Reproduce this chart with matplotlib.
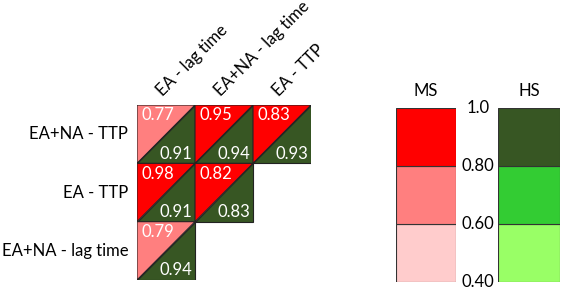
import numpy as np
import matplotlib
matplotlib.use('Agg')
import matplotlib.pyplot as plt
from matplotlib.colors import ListedColormap, BoundaryNorm
from matplotlib.patches import Polygon

plt.rcParams['font.family'] = ['Lato', 'DejaVu Sans']

# data
row_labels = ['EA+NA - TTP', 'EA - TTP', 'EA+NA - lag time']
col_labels = ['EA - lag time', 'EA+NA - lag time', 'EA - TTP']
ms_values = [[0.77, 0.95, 0.83],
             [0.98, 0.82, None],
             [0.79, None, None]]
hs_values = [[0.91, 0.94, 0.93],
             [0.91, 0.83, None],
             [0.94, None, None]]
levels = [0.40, 0.60, 0.80, 1.0]
level_labels = ['0.40', '0.60', '0.80', '1.0']
ms_colors = ['#ffcccc', '#ff7f7f', '#ff0000']
hs_colors = ['#99ff66', '#33cc33', '#375623']

ms_cmap = ListedColormap(ms_colors)
hs_cmap = ListedColormap(hs_colors)
norm = BoundaryNorm(levels, 3)

W, H = 561, 291
fig = plt.figure(figsize=(W / 100, H / 100), dpi=100)
FS = 12


def px_axes(x0, y0, x1, y1):
    return fig.add_axes([x0 / W, 1 - y1 / H, (x1 - x0) / W, (y1 - y0) / H])


# triangle grid
ax = px_axes(137, 105, 311, 280)
ax.set_xlim(0, 3)
ax.set_ylim(3, 0)
ax.axis('off')
for r in range(3):
    for c in range(3):
        ms = ms_values[r][c]
        hs = hs_values[r][c]
        if ms is None:
            continue
        upper = Polygon([(c, r), (c + 1, r), (c, r + 1)], closed=True,
                        facecolor=ms_cmap(norm(ms)), edgecolor='#222222', lw=0.8)
        lower = Polygon([(c + 1, r), (c + 1, r + 1), (c, r + 1)], closed=True,
                        facecolor=hs_cmap(norm(hs)), edgecolor='#222222', lw=0.8)
        ax.add_patch(upper)
        ax.add_patch(lower)
        ax.text(c + 0.07, r + 0.04, f'{ms:.2f}', color='white', fontsize=FS,
                ha='left', va='top')
        ax.text(c + 0.95, r + 0.97, f'{hs:.2f}', color='white', fontsize=FS,
                ha='right', va='bottom')

for r, lab in enumerate(row_labels):
    ax.text(-0.15, r + 0.5, lab, fontsize=FS, ha='right', va='center', clip_on=False)
for c, lab in enumerate(col_labels):
    ax.text(c + 0.48, -0.1, lab, fontsize=FS, ha='left', va='bottom',
            rotation=45, rotation_mode='anchor', clip_on=False)

# legend bars
for x0, x1, colors, title in [(396, 456, ms_colors, 'MS'), (498, 560, hs_colors, 'HS')]:
    lax = px_axes(x0, 108, x1, 282)
    lax.bar(0, np.diff(levels), bottom=levels[:-1], width=1, color=colors,
            edgecolor='#333333', lw=0.8, align='edge')
    lax.set_xlim(0, 1)
    lax.set_ylim(levels[0], levels[-1])
    lax.axis('off')
    lax.text(0.5, 1.05, title, transform=lax.transAxes, fontsize=FS,
             ha='center', va='bottom')
    if title == 'MS':
        for lv, lab in zip(levels, level_labels):
            lax.text(1.37, lv, lab, fontsize=FS, ha='center', va='center',
                     clip_on=False)

fig.savefig('out.png', dpi=100)
